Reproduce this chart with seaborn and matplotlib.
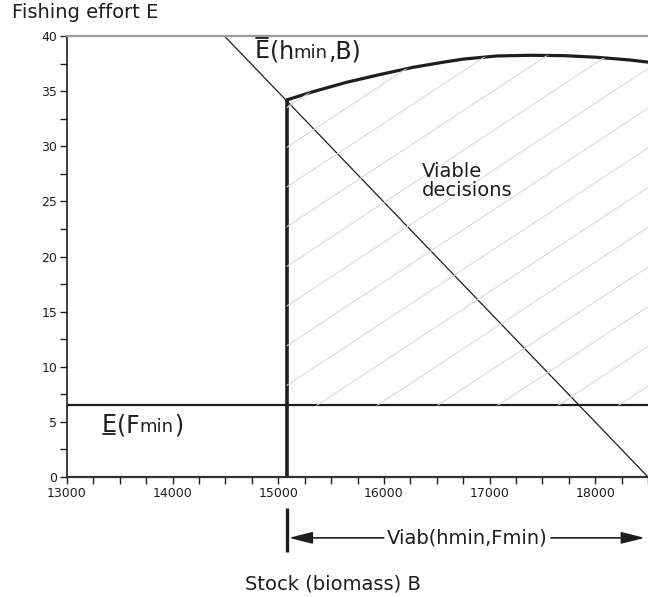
import numpy as np
import matplotlib
matplotlib.use("Agg")
import matplotlib.pyplot as plt
import matplotlib.transforms as mtransforms
from matplotlib.collections import LineCollection
from matplotlib.lines import Line2D
import seaborn as sns

# stock values along the upper boundary E(hmin, B)
upper_B = [15080, 15330, 15646, 15961, 16276, 16592, 16756, 17071, 17387, 17702,
           18017, 18332, 18500]
upper_E = [34.2, 34.95, 35.8, 36.5, 37.16, 37.67, 37.91, 38.19, 38.25, 38.22,
           38.07, 37.82, 37.63]

# straight line crossing the plot
diag_B = [14490, 18500]
diag_E = [40, 0]

B_MIN = 15080   # left limit of the viability kernel
E_MIN = 6.5     # E(Fmin)
B_MAX = 18500

x_ticks = [13000, 14000, 15000, 16000, 17000, 18000]
y_ticks = [0, 5, 10, 15, 20, 25, 30, 35, 40]

INK = "#1e1e1e"

sns.set_style("ticks")
plt.rcParams["font.family"] = ["DejaVu Sans"]

fig = plt.figure(figsize=(6.48, 5.97), dpi=100)
ax = fig.add_axes([67 / 648, 120 / 597, (648 - 67) / 648, 441 / 597])

# boundaries
sns.lineplot(x=upper_B, y=upper_E, ax=ax, color=INK, lw=2.3, sort=False)
sns.lineplot(x=diag_B, y=diag_E, ax=ax, color=INK, lw=0.9)
ax.plot([B_MIN, B_MIN], [0, upper_E[0]], color=INK, lw=2.6, solid_capstyle="butt")
ax.axhline(E_MIN, color=INK, lw=1.6)

# hatched region of viable decisions
poly = ax.fill_between(upper_B, E_MIN, upper_E, facecolor="none", edgecolor="none")
slope = 0.0063
offs = np.arange(-25, 12) * 3.6 + 8.3
segs = [[(14900, c + slope * (14900 - B_MIN)), (B_MAX + 200, c + slope * (B_MAX + 200 - B_MIN))]
        for c in offs]
hatch = LineCollection(segs, colors="#d9d9d9", linewidths=0.8)
ax.add_collection(hatch)
hatch.set_clip_path(poly.get_paths()[0], ax.transData)

ax.set_xlim(13000, B_MAX)
ax.set_ylim(0, 40)
ax.set_xticks(x_ticks)
ax.set_yticks(y_ticks)
ax.set_xticks(np.arange(13000, 18501, 250), minor=True)
ax.set_yticks(np.arange(0, 40.1, 2.5), minor=True)
ax.tick_params(which="both", direction="out", length=5, width=1, color=INK,
               labelsize=9, labelcolor=INK, pad=2)
ax.set_xlabel("")
ax.set_ylabel("")

ax.spines["right"].set_visible(False)
ax.spines["top"].set_color("#9a9a9a")
ax.spines["top"].set_linewidth(1.6)
ax.spines["left"].set_color(INK)
ax.spines["left"].set_linewidth(1.2)
ax.spines["bottom"].set_color("#333333")
ax.spines["bottom"].set_linewidth(1.6)

fig.text(12 / 648, 1 - 18 / 597, "Fishing effort E", fontsize=14, color=INK, va="baseline")
fig.text(333 / 648, 1 - 589 / 597, "Stock (biomass) B", fontsize=14, color=INK,
         ha="center", va="baseline")

ax.text(16359, 28.6, "Viable\ndecisions", fontsize=14, color=INK, va="top",
        linespacing=1.05)


def label_pieces(x, y, pieces, mark):
    fig.canvas.draw()
    rend = fig.canvas.get_renderer()
    shift = 0.0
    first = None
    for s, size in pieces:
        tr = mtransforms.offset_copy(ax.transData, fig=fig, x=shift, y=0, units="dots")
        t = ax.text(x, y, s, fontsize=size, color=INK, transform=tr, ha="left", va="baseline")
        shift += t.get_window_extent(rend).width
        if first is None:
            first = t
    bb = first.get_window_extent(rend)
    base = ax.transData.transform((x, y))[1]
    size = pieces[0][1] * fig.dpi / 72
    if mark == "over":
        yy = base + 0.73 * size + 3
    else:
        yy = base - 2
    fig.add_artist(Line2D([bb.x0 + 1.5, bb.x1 - 1.5], [yy, yy], color=INK, lw=1.3,
                          transform=mtransforms.IdentityTransform()))


label_pieces(14777, 38.0, [("E", 17), ("(h", 17), ("min", 13), (",B)", 17)], "over")
label_pieces(13331, 4.08, [("E", 17), ("(F", 17), ("min", 13), (")", 17)], "under")

# kernel extent below the axis
blend = ax.get_xaxis_transform()
ax.plot([B_MIN, B_MIN], [-0.07, -0.17], transform=blend, color=INK, lw=2.4,
        clip_on=False, solid_capstyle="butt")
viab = ax.text(16790, -0.1497, "Viab(hmin,Fmin)", transform=blend, fontsize=14,
               color=INK, ha="center", va="baseline")
fig.canvas.draw()
vb = viab.get_window_extent(fig.canvas.get_renderer()).transformed(ax.transData.inverted())
arrow_kw = dict(arrowstyle="-|>,head_length=1.2,head_width=0.3", color=INK, lw=1.2,
                shrinkA=0, shrinkB=0, mutation_scale=12)
ax.annotate("", xy=(B_MIN + 20, -0.138), xytext=(vb.x0 - 30, -0.138),
            xycoords=blend, textcoords=blend, arrowprops=arrow_kw, annotation_clip=False)
ax.annotate("", xy=(B_MAX - 30, -0.138), xytext=(vb.x1 + 30, -0.138),
            xycoords=blend, textcoords=blend, arrowprops=arrow_kw, annotation_clip=False)

fig.savefig("out.png", dpi=100)
